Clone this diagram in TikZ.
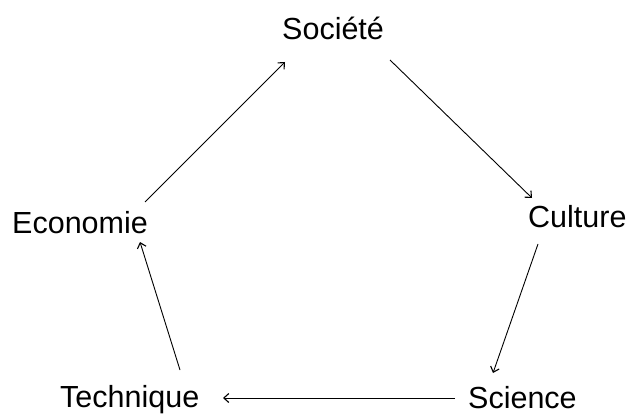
\documentclass[tikz,border=0pt]{standalone}
\usepackage{fontspec}
\setmainfont{Liberation Sans}
\usetikzlibrary{arrows.meta,calc}
\begin{document}
\begin{tikzpicture}[x=1pt,y=1pt,
  lbl/.style={anchor=base west,inner sep=0pt,font=\fontsize{30.5}{36}\selectfont},
  conn/.style={line width=0.9pt,-{Straight Barb[length=5pt,width=9pt,line width=1.1pt]}}]
\useasboundingbox (0,0) rectangle (629,413);
\node[lbl] (soc) at (282,373) {Société};
\node[lbl] (eco) at (12,180) {Economie};
\node[lbl] (cul) at (528,186) {Culture};
\node[lbl] (tec) at (60,6) {Technique};
\node[lbl] (sci) at (468,5) {Science};
\draw[conn] ($(eco.base west)+(133,31)$) -- ($(soc.base west)+(3,-22)$);
\draw[conn] ($(soc.base west)+(108,-20)$) -- ($(cul.base west)+(4,29)$);
\draw[conn] ($(cul.base west)+(10,-17)$) -- ($(sci.base west)+(25,35)$);
\draw[conn] ($(sci.base west)+(-13,10)$) -- ($(tec.base west)+(163,9)$);
\draw[conn] ($(tec.base west)+(120,37)$) -- ($(eco.base west)+(128,-9)$);
\end{tikzpicture}
\end{document}
